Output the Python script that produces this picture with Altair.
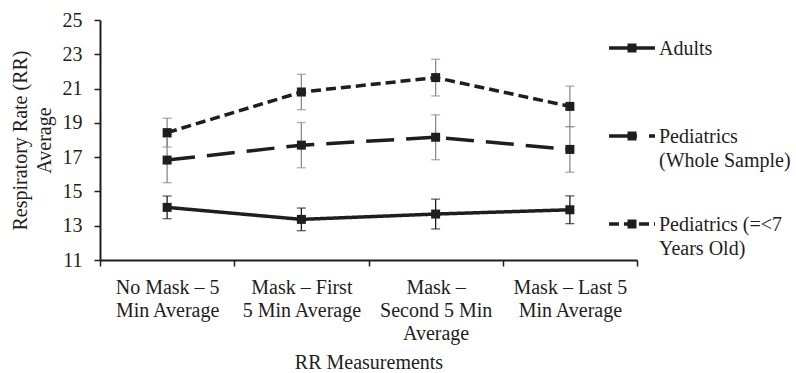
import altair as alt
import pandas as pd

categories = [
    "No Mask – 5\nMin Average",
    "Mask – First\n5 Min Average",
    "Mask –\nSecond 5 Min\nAverage",
    "Mask – Last 5\nMin Average",
]
series = ["Adults", "Pediatrics (Whole Sample)", "Pediatrics (=<7 Years Old)"]
legend_line1 = ["Adults", "Pediatrics", "Pediatrics (=<7"]
legend_line2 = ["", "(Whole Sample)", "Years Old)"]

adults_mean = [14.07, 13.37, 13.68, 13.93]
adults_err = [0.66, 0.66, 0.87, 0.81]
ped_whole_mean = [16.83, 17.70, 18.16, 17.45]
ped_whole_err = [1.32, 1.32, 1.31, 1.33]
ped_young_mean = [18.43, 20.80, 21.64, 19.96]
ped_young_err = [0.84, 1.03, 1.07, 1.18]

y_ticks = [11, 13, 15, 17, 19, 21, 23, 25]

means = [adults_mean, ped_whole_mean, ped_young_mean]
errs = [adults_err, ped_whole_err, ped_young_err]
rows = []
for s, m, e in zip(series, means, errs):
    for c, mv, ev in zip(categories, m, e):
        rows.append({"series": s, "category": c, "mean": mv, "lo": mv - ev, "hi": mv + ev})
df = pd.DataFrame(rows)
legend_df = pd.DataFrame({"series": series, "rank": list(range(len(series))),
                          "l1": legend_line1, "l2": legend_line2})

FONT = "Liberation Serif"
INK = "#1e1e1e"
FS = 20

dash_scale = alt.Scale(domain=series, range=[[1, 0], [28, 12], [10, 5]])
err_color = alt.Scale(domain=series, range=["#1e1e1e", "#8a8a8a", "#8a8a8a"])

xaxis = alt.Axis(
    title="RR Measurements", labelAngle=0, tickBand="extent", tickSize=6,
    labelPadding=11, labelLineHeight=23, labelExpr="split(datum.label, '\\n')",
    labelFont=FONT, labelFontSize=FS, titleFont=FONT, titleFontSize=FS,
    labelColor=INK, titleColor=INK, titleFontWeight="normal",
    domainColor=INK, tickColor=INK, domainWidth=2, tickWidth=1.5,
    titlePadding=9, grid=False, labelOverlap=False, labelLimit=0,
)
yaxis = alt.Axis(
    values=y_ticks, labelOverlap=False, grid=False,
    labelFont=FONT, labelFontSize=FS, titleFont=FONT, titleFontSize=FS,
    labelColor=INK, titleColor=INK,
    domainColor=INK, tickColor=INK, domainWidth=2, tickWidth=1.5,
    title=["Respiratory Rate (RR)", "Average"], titleFontWeight="normal",
    titleLineHeight=24, tickSize=6, labelPadding=12, titlePadding=8,
)


def xenc(axis=None):
    return alt.X(
        "category:N", bandPosition=0.5,
        scale=alt.Scale(type="band", domain=categories, paddingInner=0, paddingOuter=0),
        axis=axis,
    )


def yenc(field, axis=None):
    return alt.Y(field, type="quantitative", scale=alt.Scale(domain=[11, 25], nice=False, zero=False), axis=axis)


base = alt.Chart(df)
lines = base.mark_line(color=INK, strokeWidth=3.5).encode(
    x=xenc(xaxis),
    y=yenc("mean", yaxis),
    strokeDash=alt.StrokeDash("series:N", scale=dash_scale, legend=None),
    detail="series:N",
)
bars = base.mark_rule(strokeWidth=1.3).encode(
    x=xenc(), y=yenc("lo"), y2="hi:Q",
    color=alt.Color("series:N", scale=err_color, legend=None),
)
caps_lo = base.mark_tick(size=9, thickness=1.3).encode(
    x=xenc(), y=yenc("lo"),
    color=alt.Color("series:N", scale=err_color, legend=None),
)
caps_hi = base.mark_tick(size=9, thickness=1.3).encode(
    x=xenc(), y=yenc("hi"),
    color=alt.Color("series:N", scale=err_color, legend=None),
)
points = base.mark_point(shape="square", filled=True, size=81, color=INK, opacity=1).encode(
    x=xenc(), y=yenc("mean"),
)

lx = alt.Scale(domain=[0, 1], range=[509, 555])
ly = alt.Scale(domain=[0, 2], range=[28, 204])
lbase = alt.Chart(legend_df)
leg_line = lbase.mark_rule(color=INK, strokeWidth=3.5, strokeCap="butt").encode(
    x=alt.X(datum=0, type="quantitative", scale=lx, axis=None),
    x2=alt.X2(datum=1),
    y=alt.Y("rank:Q", scale=ly, axis=None),
    strokeDash=alt.StrokeDash("series:N", scale=dash_scale, legend=None),
)
leg_pt = lbase.mark_point(shape="square", filled=True, size=81, color=INK, opacity=1).encode(
    x=alt.X(datum=0.5, type="quantitative", scale=lx, axis=None),
    y=alt.Y("rank:Q", scale=ly, axis=None),
)
leg_text1 = lbase.mark_text(align="left", baseline="middle", dx=4, dy=1, font=FONT, fontSize=FS, color=INK).encode(
    x=alt.X(datum=1, type="quantitative", scale=lx, axis=None),
    y=alt.Y("rank:Q", scale=ly, axis=None),
    text="l1:N",
)
leg_text2 = lbase.mark_text(align="left", baseline="middle", dx=4, dy=25, font=FONT, fontSize=FS, color=INK).encode(
    x=alt.X(datum=1, type="quantitative", scale=lx, axis=None),
    y=alt.Y("rank:Q", scale=ly, axis=None),
    text="l2:N",
)

chart = (
    alt.layer(lines, bars, caps_lo, caps_hi, points, leg_line, leg_pt, leg_text1, leg_text2)
    .resolve_scale(x="independent", y="independent")
    .properties(
        width=537, height=240, autosize="none",
        padding={"left": 100, "top": 20, "right": 159, "bottom": 113},
    )
    .configure_view(stroke=None)
)
chart.save("out.html", embed_options={"renderer": "svg", "actions": False})
